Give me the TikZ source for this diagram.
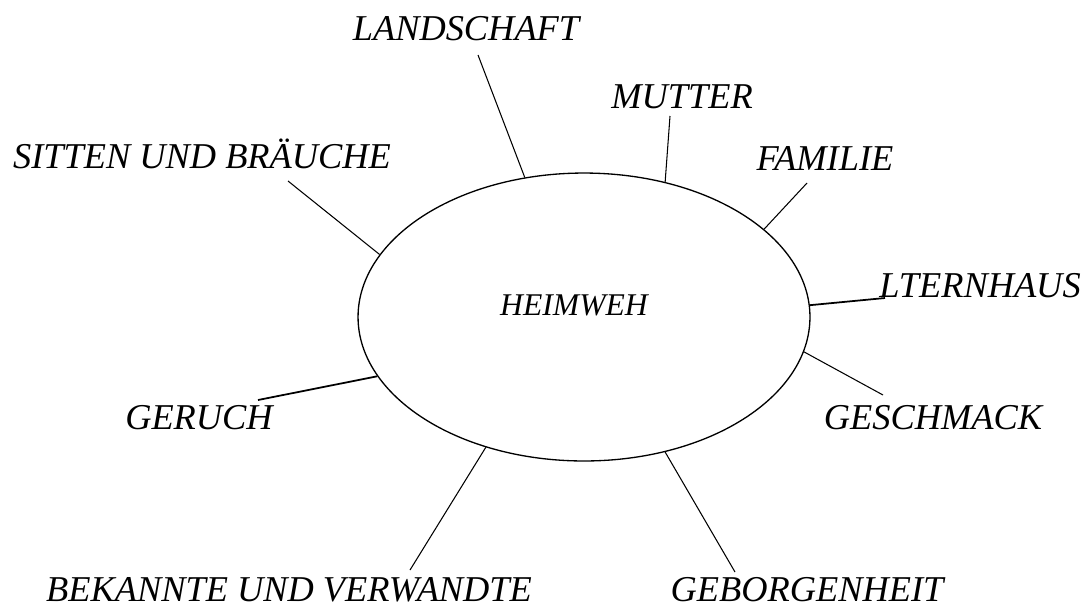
\documentclass[tikz,border=0pt]{standalone}
\usepackage{fontspec}
\setmainfont{Liberation Serif}
\usetikzlibrary{shapes.geometric,calc}

\begin{document}
\begin{tikzpicture}[x=0.02cm, y=-0.02cm,
  lbl/.style={inner sep=0pt, font=\fontsize{20.7}{24}\selectfont\itshape},
  hub/.style={ellipse, draw, line width=0.75pt, minimum width=9.04cm, minimum height=5.76cm, inner sep=0pt},
  ray/.style={line width=0.6pt}]
\useasboundingbox (0,0) rectangle (1087,610);
\node[hub] (e) at (584,317) {};
\node[inner sep=0pt, font=\fontsize{18}{22}\selectfont\itshape] (hw) at (574,305) {HEIMWEH};
\foreach \n/\x/\y/\t in {land/466/29/LANDSCHAFT, mutt/682/97/MUTTER, sitt/202/154/SITTEN UND BRÄUCHE,
  fam/825/158/FAMILIE, ltern/980/286/LTERNHAUS, gesch/933/418/GESCHMACK, ger/199/418/GERUCH,
  bek/289/590/BEKANNTE UND VERWANDTE, gebo/807/590/GEBORGENHEIT} { \node[lbl] (\n) at (\x,\y) {\t}; }
\foreach \n/\dx/\dy/\a in {land/12/26/113, mutt/-12/19/59, sitt/86/27/163, fam/-18/25/26, gesch/-50/-23/-9,
  bek/121/-20/-127, gebo/-72/-18/-59} { \draw[ray] ($(\n)+(\dx,\dy)$) -- (e.\a); }
\draw[ray, line width=1pt] ($(ltern)+(-95,12)$) -- (e.3);
\draw[ray, line width=1pt] ($(ger)+(59,-18)$) -- (e.-164);
\end{tikzpicture}
\end{document}
